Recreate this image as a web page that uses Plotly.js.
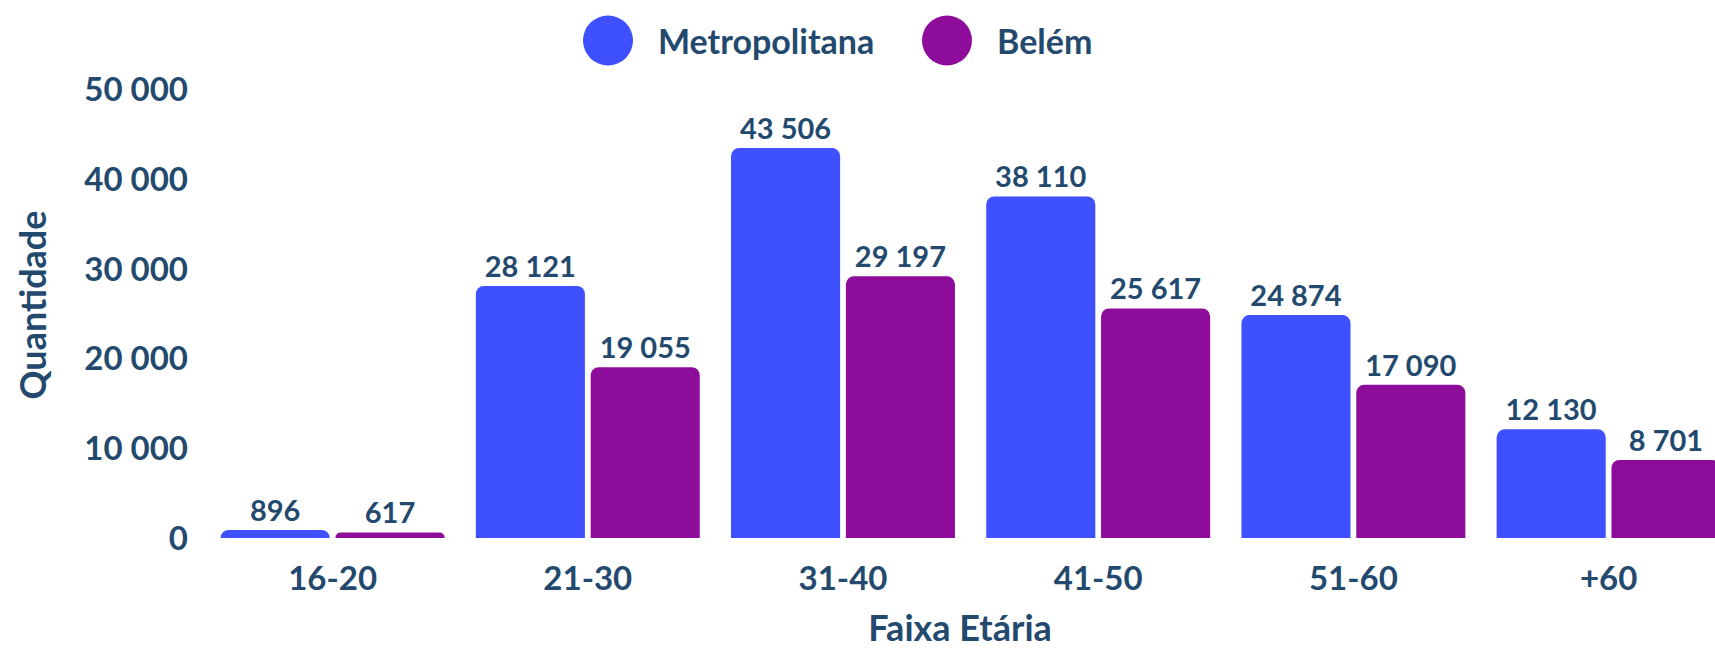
<!DOCTYPE html>
<html>
<head>
<meta charset="utf-8">
<script src="https://cdn.plot.ly/plotly-3.0.1.min.js"></script>
<style>html,body{margin:0;padding:0;background:#fff;}#chart{width:1715px;height:649px;}</style>
</head>
<body>
<div id="chart"></div>
<script>
const categories = ["16-20", "21-30", "31-40", "41-50", "51-60", "+60"];
const seriesNames = ["Metropolitana", "Belém"];
const metropolitana = [896, 28121, 43506, 38110, 24874, 12130];
const belem = [617, 19055, 29197, 25617, 17090, 8701];
const yTitle = "Quantidade";
const xTitle = "Faixa Etária";

const colors = ["#3F51FF", "#8E0C9A"];
const textColor = "#234A6E";
const fontFamily = "Lato, 'Open Sans', sans-serif";

const W = 1715, H = 649;
const M = {l: 205, r: 0, t: 72, b: 111};
const pw = W - M.l - M.r, ph = H - M.t - M.b;

const traces = [metropolitana, belem].map((vals, i) => ({
  type: "bar",
  name: seriesNames[i],
  x: categories,
  y: vals,
  marker: {color: colors[i], cornerradius: 8},
  texttemplate: "%{y:,}",
  textposition: "outside",
  textfont: {family: fontFamily, size: 29, color: textColor, weight: 700},
  cliponaxis: false,
  hoverinfo: "x+y+name"
}));

// manual legend with large circles
const legendItems = [
  {cx: 608, tx: 656},
  {cx: 947, tx: 995}
];
const legendY = 40.5;
const toPx = x => (x - M.l) / pw;
const toPy = y => (H - M.b - y) / ph;
const shapes = legendItems.map((it, i) => ({
  type: "circle", xref: "paper", yref: "paper",
  xsizemode: "pixel", ysizemode: "pixel",
  xanchor: toPx(it.cx), yanchor: toPy(legendY),
  x0: -25, x1: 25, y0: -25, y1: 25,
  fillcolor: colors[i], line: {width: 0}
}));
const annotations = legendItems.map((it, i) => ({
  xref: "paper", yref: "paper",
  x: toPx(it.tx), y: toPy(legendY),
  xanchor: "left", yanchor: "middle",
  text: seriesNames[i], showarrow: false,
  font: {family: fontFamily, size: 34, color: textColor, weight: 700}
}));

const layout = {
  width: W, height: H,
  margin: M,
  paper_bgcolor: "#fff", plot_bgcolor: "#fff",
  separators: ", ",
  showlegend: false,
  barmode: "group",
  bargap: 0.1,
  bargroupgap: 0.05,
  font: {family: fontFamily, color: textColor, weight: 700},
  xaxis: {
    range: [-0.5, (W - M.r - M.l) / pw * 5.917 - 0.5],
    showgrid: false, zeroline: false, showline: false,
    ticks: "", ticklabelstandoff: 18,
    tickfont: {family: fontFamily, size: 33, color: textColor, weight: 700},
    title: {text: xTitle, standoff: 20, font: {family: fontFamily, size: 36, color: textColor, weight: 700}}
  },
  yaxis: {
    range: [0, 52000], dtick: 10000, tickformat: ",",
    showgrid: false, zeroline: false, showline: false,
    ticks: "", ticklabelstandoff: 16,
    tickfont: {family: fontFamily, size: 33, color: textColor, weight: 700},
    title: {text: yTitle, standoff: 26, font: {family: fontFamily, size: 36, color: textColor, weight: 700}}
  },
  shapes: shapes,
  annotations: annotations
};

Plotly.newPlot("chart", traces, layout, {displayModeBar: false, staticPlot: true});
</script>
</body>
</html>
